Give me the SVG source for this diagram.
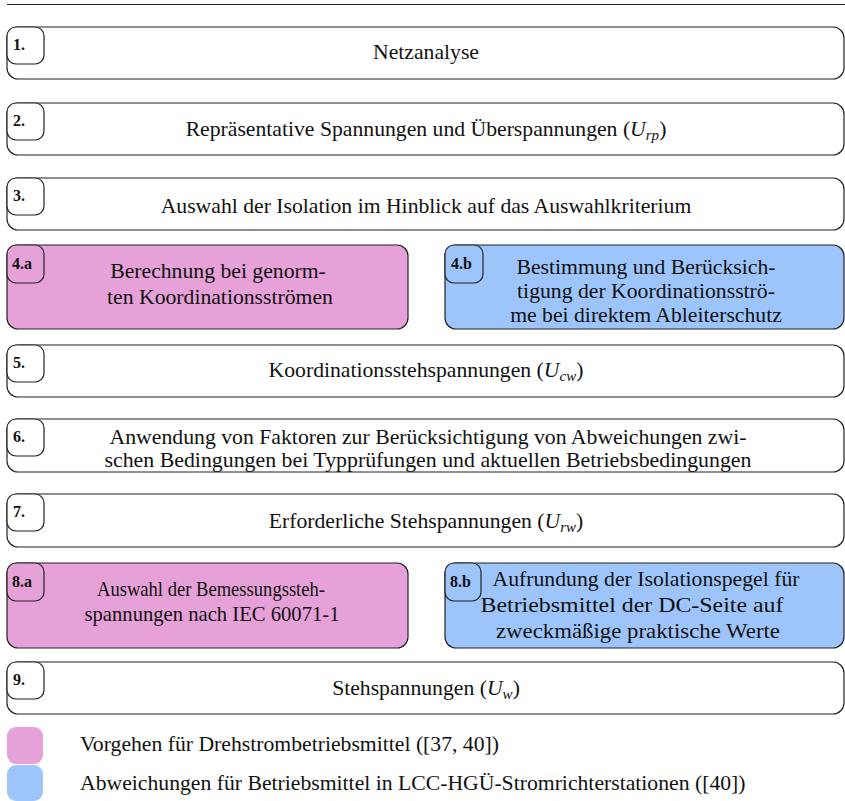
<svg xmlns="http://www.w3.org/2000/svg" width="845" height="801" viewBox="0 0 845 801">
<style>
.box{stroke:#222;stroke-width:1.2;fill:#fff}
.pink{fill:#e6a1d8}
.blue{fill:#9ec5fb}
text{font-family:'Liberation Serif',serif;fill:#111}
.t{font-size:21.7px;text-anchor:middle}
.lg{font-size:21.7px}
.lb{font-size:16px;font-weight:bold}
.m{font-style:italic}
.s{font-style:italic;font-size:15px}
</style>
<rect width="845" height="801" fill="#fff"/>
<line x1="7" y1="4.5" x2="845" y2="4.5" stroke="#222" stroke-width="1.2"/>
<g id="n1">
<rect class="box" x="7" y="27" width="837" height="52" rx="11"/>
<rect class="box" x="7" y="27" width="37" height="37" rx="9"/>
<text class="lb" x="13" y="50">1.</text>
<text class="t" x="426" y="59">Netzanalyse</text>
</g>
<g id="n2">
<rect class="box" x="7" y="103" width="837" height="52" rx="11"/>
<rect class="box" x="7" y="103" width="37" height="37" rx="9"/>
<text class="lb" x="13" y="126">2.</text>
<text class="t" x="426" y="136">Repräsentative Spannungen und Überspannungen (<tspan class="m">U</tspan><tspan class="s" dy="4">rp</tspan><tspan dy="-4">)</tspan></text>
</g>
<g id="n3">
<rect class="box" x="7" y="178" width="837" height="52" rx="11"/>
<rect class="box" x="7" y="178" width="37" height="37" rx="9"/>
<text class="lb" x="13" y="201">3.</text>
<text class="t" x="426" y="213">Auswahl der Isolation im Hinblick auf das Auswahlkriterium</text>
</g>
<g id="n4a">
<rect class="box pink" x="7" y="245" width="401" height="84" rx="11"/>
<rect class="box pink" x="7" y="245" width="37" height="38" rx="9"/>
<text class="lb" x="12" y="269">4.a</text>
<text class="t" x="218" y="278">Berechnung bei genorm-</text>
<text class="t" x="220" y="304">ten Koordinationsströmen</text>
</g>
<g id="n4b">
<rect class="box blue" x="445" y="245" width="399" height="84" rx="11"/>
<rect class="box blue" x="445" y="245" width="38" height="38" rx="9"/>
<text class="lb" x="451" y="269">4.b</text>
<text class="t" x="646" y="274">Bestimmung und Berücksich-</text>
<text class="t" x="646" y="298">tigung der Koordinationsströ-</text>
<text class="t" x="646" y="322">me bei direktem Ableiterschutz</text>
</g>
<g id="n5">
<rect class="box" x="7" y="345" width="837" height="52" rx="11"/>
<rect class="box" x="7" y="345" width="37" height="37" rx="9"/>
<text class="lb" x="13" y="368">5.</text>
<text class="t" x="426" y="377">Koordinationsstehspannungen (<tspan class="m">U</tspan><tspan class="s" dy="4">cw</tspan><tspan dy="-4">)</tspan></text>
</g>
<g id="n6">
<rect class="box" x="7" y="419" width="837" height="53" rx="11"/>
<rect class="box" x="7" y="419" width="37" height="37" rx="9"/>
<text class="lb" x="13" y="442">6.</text>
<text class="t" x="428" y="444" textLength="637" lengthAdjust="spacingAndGlyphs">Anwendung von Faktoren zur Berücksichtigung von Abweichungen zwi-</text>
<text class="t" x="428" y="467" textLength="647" lengthAdjust="spacingAndGlyphs">schen Bedingungen bei Typprüfungen und aktuellen Betriebsbedingungen</text>
</g>
<g id="n7">
<rect class="box" x="7" y="494" width="837" height="53" rx="11"/>
<rect class="box" x="7" y="494" width="37" height="37" rx="9"/>
<text class="lb" x="13" y="517">7.</text>
<text class="t" x="426" y="528">Erforderliche Stehspannungen (<tspan class="m">U</tspan><tspan class="s" dy="4">rw</tspan><tspan dy="-4">)</tspan></text>
</g>
<g id="n8a">
<rect class="box pink" x="7" y="563" width="401" height="85" rx="11"/>
<rect class="box pink" x="7" y="563" width="37" height="38" rx="9"/>
<text class="lb" x="12" y="587">8.a</text>
<text class="t" x="211" y="596" textLength="228" lengthAdjust="spacingAndGlyphs">Auswahl der Bemessungssteh-</text>
<text class="t" x="212" y="621" textLength="255" lengthAdjust="spacingAndGlyphs">spannungen nach IEC 60071-1</text>
</g>
<g id="n8b">
<rect class="box blue" x="445" y="563" width="399" height="85" rx="11"/>
<rect class="box blue" x="445" y="563" width="36" height="38" rx="9"/>
<text class="lb" x="450" y="587">8.b</text>
<text class="t" x="646" y="586" textLength="307" lengthAdjust="spacingAndGlyphs">Aufrundung der Isolationspegel für</text>
<text class="t" x="632" y="612" textLength="303" lengthAdjust="spacingAndGlyphs">Betriebsmittel der DC-Seite auf</text>
<text class="t" x="638" y="638" textLength="284" lengthAdjust="spacingAndGlyphs">zweckmäßige praktische Werte</text>
</g>
<g id="n9">
<rect class="box" x="7" y="662" width="837" height="52" rx="11"/>
<rect class="box" x="7" y="662" width="37" height="37" rx="9"/>
<text class="lb" x="13" y="685">9.</text>
<text class="t" x="426" y="695">Stehspannungen (<tspan class="m">U</tspan><tspan class="s" dy="4">w</tspan><tspan dy="-4">)</tspan></text>
</g>
<g id="legend">
<rect class="pink" x="7" y="727" width="36" height="37" rx="9"/>
<rect class="blue" x="7" y="765" width="36" height="36" rx="9"/>
<text class="lg" x="80" y="751">Vorgehen für Drehstrombetriebsmittel ([37, 40])</text>
<text class="lg" x="80" y="790">Abweichungen für Betriebsmittel in LCC-HGÜ-Stromrichterstationen ([40])</text>
</g>
<g id="connectors"></g>
</svg>
